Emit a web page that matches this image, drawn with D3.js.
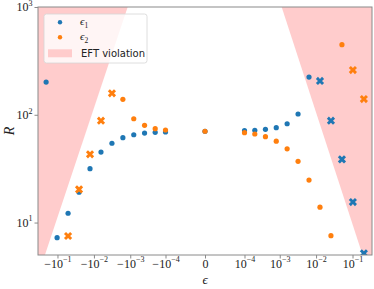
<!DOCTYPE html>
<html>
<head>
<meta charset="utf-8">
<script src="https://cdn.jsdelivr.net/npm/d3@7"></script>
<style>
body { margin: 0; background: #fff; }
</style>
</head>
<body>
<svg id="chart"></svg>
<script>
let width = 374;
let height = 289;
let margin = {top: 7, right: 2, bottom: 34, left: 38};

// epsilon_1 series (blue)
const eps1X = [-0.2048, -0.1024, -0.0512, -0.0256, -0.0128, -0.0064, -0.0032, -0.0016, -0.0008, -0.0004, -0.0002, -0.0001,
    0, 0.0001, 0.0002, 0.0004, 0.0008, 0.0016, 0.0032, 0.0064, 0.0128, 0.0256, 0.0512, 0.1024, 0.2048];
const eps1R = [201, 7.24, 12.2, 19.1, 31.6, 45.1, 54.4, 61.3, 65.3, 67.7, 68.8, 69.2,
    70.3, 71.2, 71.8, 73.3, 75.9, 82.6, 101.7, 224, 206, 88.1, 38.6, 15.5, 5.19];
const eps1Mark = ["o", "o", "o", "o", "o", "o", "o", "o", "o", "o", "o", "o",
    "o", "o", "o", "o", "o", "o", "o", "o", "x", "x", "x", "x", "x"];

// epsilon_2 series (orange)
const eps2X = [-0.0512, -0.0256, -0.0128, -0.0064, -0.0032, -0.0016, -0.0008, -0.0004, -0.0002, -0.0001,
    0, 0.0001, 0.0002, 0.0004, 0.0008, 0.0016, 0.0032, 0.0064, 0.0128, 0.0256, 0.0512, 0.1024, 0.2048];
const eps2R = [7.50, 20.3, 43.0, 88.1, 158.2, 139.2, 91.9, 79.9, 74.3, 72.2,
    70.3, 68.2, 66.3, 62.6, 56.9, 48.3, 37.0, 24.8, 13.9, 7.55, 447, 260, 140];
const eps2Mark = ["x", "x", "x", "x", "x", "o", "o", "o", "o", "o",
    "o", "o", "o", "o", "o", "o", "o", "o", "o", "o", "o", "x", "x"];

// EFT violation boundaries (epsilon, R)
const violLeft = [[-0.00118, 1000], [-0.221, 5]];
const violRight = [[0.00113, 1000], [0.1885, 5]];

const xTicks = [-1e-1, -1e-2, -1e-3, -1e-4, 0, 1e-4, 1e-3, 1e-2, 1e-1];
const xTickLabels = ["−10^−1", "−10^−2", "−10^−3", "−10^−4", "0", "10^−4", "10^−3", "10^−2", "10^−1"];
const yTicks = [10, 100, 1000];
const yTickLabels = ["10^1", "10^2", "10^3"];

const xDomain = [-0.342, 0.342];
const yDomain = [5, 1000];

let blue = "#1f77b4";
let orange = "#ff7f0e";
let pink = "#ffcccc";
let spine = "#8a8a8a";
let serif = "'Liberation Serif', 'DejaVu Serif', serif";

let svg = d3.select("#chart")
    .attr("width", width)
    .attr("height", height);

let x = d3.scaleSymlog()
    .constant(9e-6)
    .domain(xDomain)
    .range([margin.left, width - margin.right]);
let y = d3.scaleLog()
    .domain(yDomain)
    .range([height - margin.bottom, margin.top]);

let x0 = x.range()[0], x1 = x.range()[1];
let y0 = y.range()[0], y1 = y.range()[1];

svg.append("defs").append("clipPath").attr("id", "clip")
    .append("rect")
    .attr("x", x0).attr("y", y1)
    .attr("width", x1 - x0).attr("height", y0 - y1);

let plot = svg.append("g").attr("clip-path", "url(#clip)");

// shaded regions
plot.append("path")
    .attr("d", "M" + x0 + "," + y(violLeft[0][1]) +
        "L" + x(violLeft[0][0]) + "," + y(violLeft[0][1]) +
        "L" + x(violLeft[1][0]) + "," + y(violLeft[1][1]) +
        "L" + x0 + "," + y(violLeft[1][1]) + "Z")
    .attr("fill", pink);
plot.append("path")
    .attr("d", "M" + x(violRight[0][0]) + "," + y(violRight[0][1]) +
        "L" + x1 + "," + y(violRight[0][1]) +
        "L" + x1 + "," + y(violRight[1][1]) +
        "L" + x(violRight[1][0]) + "," + y(violRight[1][1]) + "Z")
    .attr("fill", pink);

let xShape = d3.symbol().type(d3.symbolCross).size(42);

function drawSeries(xs, rs, marks, color) {
    let pts = xs.map((d, i) => ({x: d, r: rs[i], m: marks[i]}));
    plot.selectAll(null)
        .data(pts.filter(d => d.m == "o"))
        .enter().append("circle")
        .attr("cx", d => x(d.x))
        .attr("cy", d => y(d.r))
        .attr("r", 2.6)
        .attr("fill", color);
    plot.selectAll(null)
        .data(pts.filter(d => d.m == "x"))
        .enter().append("path")
        .attr("d", xShape)
        .attr("transform", d => "translate(" + x(d.x) + "," + y(d.r) + ") rotate(45)")
        .attr("fill", color);
}
drawSeries(eps1X, eps1R, eps1Mark, blue);
drawSeries(eps2X, eps2R, eps2Mark, orange);

// frame
svg.append("rect")
    .attr("x", x0).attr("y", y1)
    .attr("width", x1 - x0).attr("height", y0 - y1)
    .attr("fill", "none")
    .attr("stroke", spine)
    .attr("stroke-width", 1);

function supLabel(sel, labels) {
    sel.each(function(d, i) {
        let t = d3.select(this).text(null);
        let parts = labels[i].split("^");
        t.append("tspan").text(parts[0]);
        if (parts.length > 1) {
            t.append("tspan").attr("dy", -5.5).attr("font-size", 8).text(parts[1]);
        }
    });
}

let xAxis = svg.append("g")
    .attr("transform", "translate(0," + y0 + ")")
    .call(d3.axisBottom(x).tickValues(xTicks).tickSize(3.5).tickPadding(2));
xAxis.select(".domain").remove();
xAxis.selectAll(".tick line").attr("stroke", spine);
xAxis.selectAll(".tick text")
    .attr("fill", "#222")
    .attr("font-size", 12)
    .style("font-family", serif)
    .attr("dy", "0.6em")
    .call(supLabel, xTickLabels);

let yAxis = svg.append("g")
    .attr("transform", "translate(" + x0 + ",0)")
    .call(d3.axisLeft(y).tickValues(yTicks).tickSize(3.5).tickPadding(2));
yAxis.select(".domain").remove();
yAxis.selectAll(".tick line").attr("stroke", spine);
yAxis.selectAll(".tick text")
    .attr("fill", "#222")
    .attr("font-size", 12)
    .style("font-family", serif)
    .call(supLabel, yTickLabels);

// axis labels
svg.append("text")
    .attr("x", (x0 + x1) / 2)
    .attr("y", 284)
    .attr("text-anchor", "middle")
    .attr("font-size", 13)
    .attr("font-style", "italic")
    .style("font-family", serif)
    .attr("fill", "#222")
    .text("ϵ");
svg.append("text")
    .attr("transform", "translate(14," + ((y0 + y1) / 2) + ") rotate(-90)")
    .attr("text-anchor", "middle")
    .attr("font-size", 14)
    .attr("font-style", "italic")
    .style("font-family", serif)
    .attr("fill", "#222")
    .text("R");

// legend
let legend = svg.append("g");
legend.append("rect")
    .attr("x", 44).attr("y", 14)
    .attr("width", 103).attr("height", 49)
    .attr("rx", 2.5)
    .attr("fill", "#fff").attr("fill-opacity", 0.8)
    .attr("stroke", "#d6d6d6").attr("stroke-width", 0.8);
let legItems = [
    {label: "ϵ", sub: "1", color: blue, ly: 22.3},
    {label: "ϵ", sub: "2", color: orange, ly: 37.3}
];
legItems.forEach(function(d) {
    legend.append("circle").attr("cx", 60).attr("cy", d.ly).attr("r", 2.2).attr("fill", d.color);
    let t = legend.append("text")
        .attr("x", 80).attr("y", d.ly + 3)
        .attr("font-size", 11)
        .attr("font-style", "italic")
        .style("font-family", serif)
        .attr("fill", "#222");
    t.append("tspan").text(d.label);
    t.append("tspan").attr("dy", 2.5).attr("font-size", 7.5).attr("font-style", "normal").text(d.sub);
});
legend.append("rect")
    .attr("x", 48).attr("y", 49.3)
    .attr("width", 24).attr("height", 8)
    .attr("fill", pink);
legend.append("text")
    .attr("x", 81).attr("y", 57)
    .attr("font-size", 10)
    .style("font-family", "'DejaVu Sans', sans-serif")
    .attr("fill", "#222")
    .text("EFT violation");
</script>
</body>
</html>
